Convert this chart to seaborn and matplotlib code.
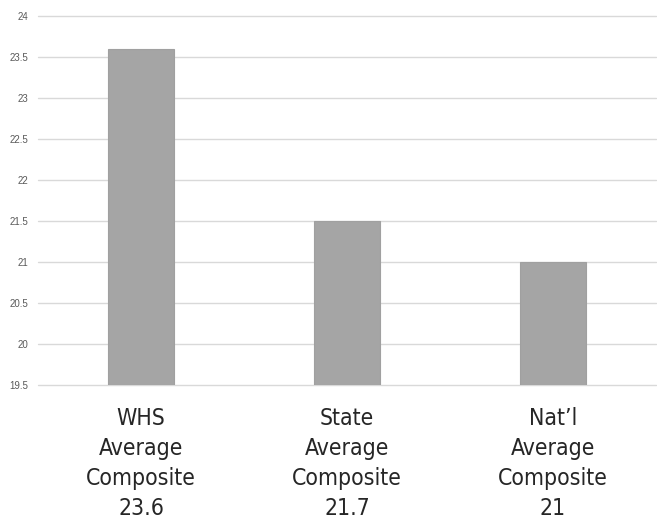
import matplotlib
matplotlib.use("Agg")
import matplotlib.pyplot as plt
import seaborn as sns
import pandas as pd

# ── Data ────────────────────────────────────────────────────
groups = ["WHS", "State", "Nat\u2019l"]
label_values = ["23.6", "21.7", "21"]
bar_values = [23.6, 21.5, 21.0]
y_ticks = [19.5, 20, 20.5, 21, 21.5, 22, 22.5, 23, 23.5, 24]

labels = [f"{g}\nAverage\nComposite\n{v}" for g, v in zip(groups, label_values)]
df = pd.DataFrame({"label": labels, "value": bar_values})

# ── Style ───────────────────────────────────────────────────
sns.set_theme(style="white")
plt.rcParams["font.family"] = ["DejaVu Sans"]

fig = plt.figure(figsize=(6.57, 5.21), dpi=100)
ax = fig.add_axes([0.058, 0.261, 0.94, 0.708])

sns.barplot(data=df, x="label", y="value", color="#a5a5a5", width=0.32,
            saturation=1, edgecolor="#a0a0a0", linewidth=0.8, ax=ax, zorder=3)

ax.set_ylim(19.5, 24)
ax.set_yticks(y_ticks)
ax.set_yticklabels([f"{t:g}" for t in y_ticks], fontsize=7, color="#595959",
                   family=["Liberation Sans", "DejaVu Sans"])
ax.yaxis.grid(True, color="#d9d9d9", linewidth=1, zorder=0)
for gl in ax.get_ygridlines():
    gl.set_clip_on(False)
ax.tick_params(axis="y", length=0, pad=7)
ax.tick_params(axis="x", length=0, labelbottom=False)

# multi-line category labels, placed under each bar
for i, lbl in enumerate(labels):
    ax.annotate(lbl, xy=(i, 0), xycoords=("data", "axes fraction"),
                xytext=(0, -16), textcoords="offset points",
                ha="center", va="top", fontsize=16.5, fontstretch="condensed",
                color="#262626", linespacing=1.39)

for s in ax.spines.values():
    s.set_visible(False)
ax.set_xlabel("")
ax.set_ylabel("")

fig.savefig("out.png", dpi=100)
